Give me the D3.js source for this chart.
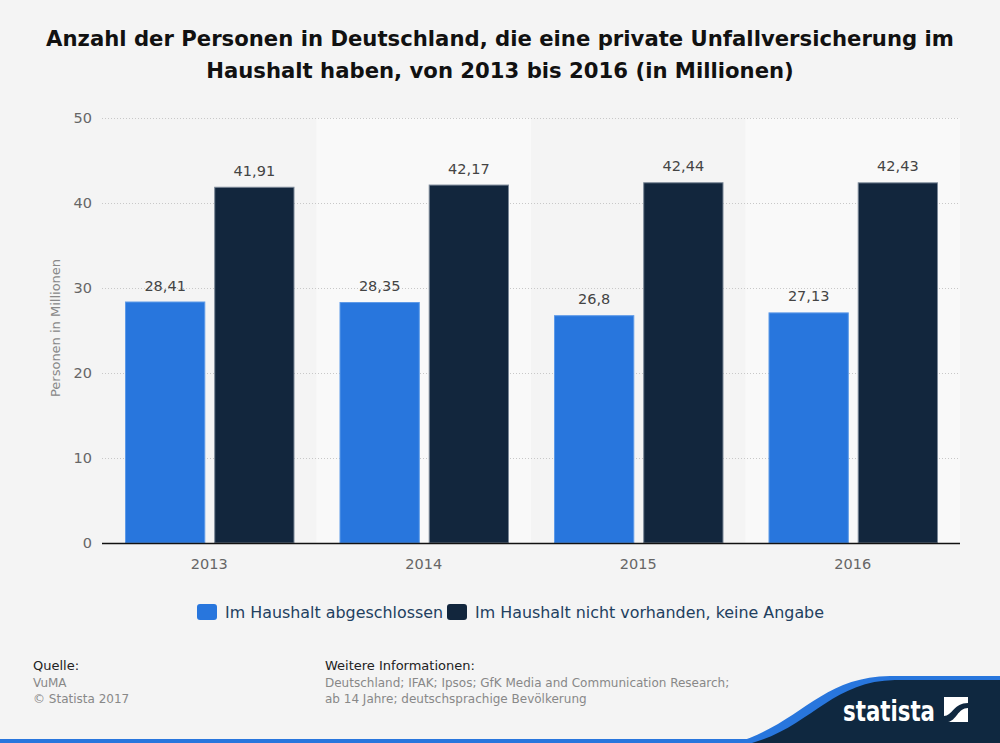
<!DOCTYPE html>
<html><head><meta charset="utf-8">
<script src="https://cdn.jsdelivr.net/npm/d3@7"></script>
<style>
html,body{margin:0;padding:0;background:#f4f4f4;}
svg{display:block;}
</style></head>
<body>
<script>
const categories = ["2013","2014","2015","2016"];
const seriesNames = ["Im Haushalt abgeschlossen","Im Haushalt nicht vorhanden, keine Angabe"];
const abgeschlossen = [28.41, 28.35, 26.8, 27.13];
const nichtVorhanden = [41.91, 42.17, 42.44, 42.43];
const labelsA = ["28,41","28,35","26,8","27,13"];
const labelsB = ["41,91","42,17","42,44","42,43"];
const yTicks = [0,10,20,30,40,50];

const W = 1000, H = 743;
const svg = d3.select("body").append("svg").attr("width", W).attr("height", H);
svg.append("rect").attr("width", W).attr("height", H).attr("fill", "#f4f4f4");

const font = "DejaVu Sans, sans-serif";
// title
const title = svg.append("text").attr("text-anchor","middle").attr("font-family",font)
  .attr("font-weight","bold").attr("font-size",21.2).attr("fill","#111");
title.append("tspan").attr("x",500).attr("y",46).text("Anzahl der Personen in Deutschland, die eine private Unfallversicherung im");
title.append("tspan").attr("x",500).attr("y",78).text("Haushalt haben, von 2013 bis 2016 (in Millionen)");

const x0 = d3.scaleBand().domain(categories).range([102, 960]);
const y = d3.scaleLinear().domain([0,50]).range([543,118]);
const x1 = d3.scaleBand().domain([0,1]).range([23, x0.bandwidth()-22]).paddingInner(0.1);

// alternating band backgrounds
svg.selectAll(".bandbg").data(categories).enter().append("rect")
  .attr("x", d=>x0(d)).attr("y", 118).attr("width", x0.bandwidth()).attr("height", 543-118)
  .attr("fill", (d,i)=> i%2===1 ? "#f9f9f9" : "#f4f4f4");

// grid
svg.selectAll(".grid").data(yTicks.filter(t=>t>0)).enter().append("line")
  .attr("x1",102).attr("x2",960).attr("y1",d=>y(d)+0.5).attr("y2",d=>y(d)+0.5)
  .attr("stroke","#c8c8c8").attr("stroke-dasharray","1,2");

// y axis labels
svg.selectAll(".ytick").data(yTicks).enter().append("text")
  .attr("x",92).attr("y",d=>y(d)+5).attr("text-anchor","end")
  .attr("font-family",font).attr("font-size",14.5).attr("fill","#666").text(d=>d);

svg.append("text").attr("transform","translate(60,328) rotate(-90)").attr("text-anchor","middle")
  .attr("font-family",font).attr("font-size",13).attr("fill","#888").text("Personen in Millionen");

const colors = ["#2876dd","#12263d"];
const strokes = ["#5d9ae8","#7a8797"];
const series = [abgeschlossen, nichtVorhanden];
const labels = [labelsA, labelsB];

series.forEach((vals, s) => {
  svg.selectAll(".bar"+s).data(vals).enter().append("rect")
    .attr("x", (d,i)=> x0(categories[i]) + x1(s) + 0.5)
    .attr("y", d=> y(d)+0.5)
    .attr("width", x1.bandwidth()-1)
    .attr("height", d=> y(0)-y(d)-0.5)
    .attr("fill", colors[s]).attr("stroke", strokes[s]).attr("stroke-width",1);
  svg.selectAll(".lbl"+s).data(vals).enter().append("text")
    .attr("x", (d,i)=> x0(categories[i]) + x1(s) + x1.bandwidth()/2)
    .attr("y", d=> y(d)-11)
    .attr("text-anchor","middle").attr("font-family",font).attr("font-size",14.5).attr("fill","#444")
    .text((d,i)=>labels[s][i]);
});

// x axis line
svg.append("line").attr("x1",102).attr("x2",960).attr("y1",543.5).attr("y2",543.5)
  .attr("stroke","#111").attr("stroke-width",1.5);
svg.selectAll(".xtick").data(categories).enter().append("text")
  .attr("x", d=> x0(d)+x0.bandwidth()/2).attr("y",569).attr("text-anchor","middle")
  .attr("font-family",font).attr("font-size",14.5).attr("fill","#666").text(d=>d);

// legend
const lg = svg.append("g");
const legX = [197, 447];
seriesNames.forEach((n,i)=>{
  lg.append("rect").attr("x",legX[i]).attr("y",604).attr("width",20).attr("height",16).attr("rx",3)
    .attr("fill",colors[i]);
  lg.append("text").attr("x",legX[i]+28).attr("y",618).attr("font-family",font)
    .attr("font-size",15.9).attr("fill","#22405f").text(n);
});

// footer
const ff = "DejaVu Sans, sans-serif";
svg.append("text").attr("x",33).attr("y",670).attr("font-family",ff).attr("font-size",13).attr("fill","#222").text("Quelle:");
svg.append("text").attr("x",33).attr("y",687).attr("font-family",ff).attr("font-size",12).attr("fill","#888").text("VuMA");
svg.append("text").attr("x",33).attr("y",703).attr("font-family",ff).attr("font-size",12).attr("fill","#888").text("© Statista 2017");
svg.append("text").attr("x",325).attr("y",670).attr("font-family",ff).attr("font-size",13).attr("fill","#222").text("Weitere Informationen:");
svg.append("text").attr("x",325).attr("y",687).attr("font-family",ff).attr("font-size",12).attr("fill","#888").text("Deutschland; IFAK; Ipsos; GfK Media and Communication Research;");
svg.append("text").attr("x",325).attr("y",703).attr("font-family",ff).attr("font-size",12).attr("fill","#888").text("ab 14 Jahre; deutschsprachige Bevölkerung");

// logo area
svg.append("rect").attr("x",0).attr("y",739).attr("width",1000).attr("height",4).attr("fill","#2876dd");
svg.append("path").attr("d","M735,743 C800,724 820,677 890,676 L1000,676 L1000,743 Z").attr("fill","#2876dd");
svg.append("path").attr("d","M752,743 C810,727 832,681 895,680 L1000,680 L1000,743 Z").attr("fill","#0f2840");
svg.append("text").attr("x",843).attr("y",721).attr("font-family","DejaVu Sans Condensed, DejaVu Sans, sans-serif").attr("font-weight","bold")
  .attr("font-size",29).attr("fill","#fff").attr("textLength",92).attr("lengthAdjust","spacingAndGlyphs").text("statista");
svg.append("rect").attr("x",944).attr("y",697).attr("width",24).attr("height",25).attr("fill","#fff");
svg.append("path").attr("d","M944,716 C952,716 954,703 968,703 L968,708 C958,708 956,721 948,722 L944,722 Z").attr("fill","#0f2840");
</script>
</body></html>
